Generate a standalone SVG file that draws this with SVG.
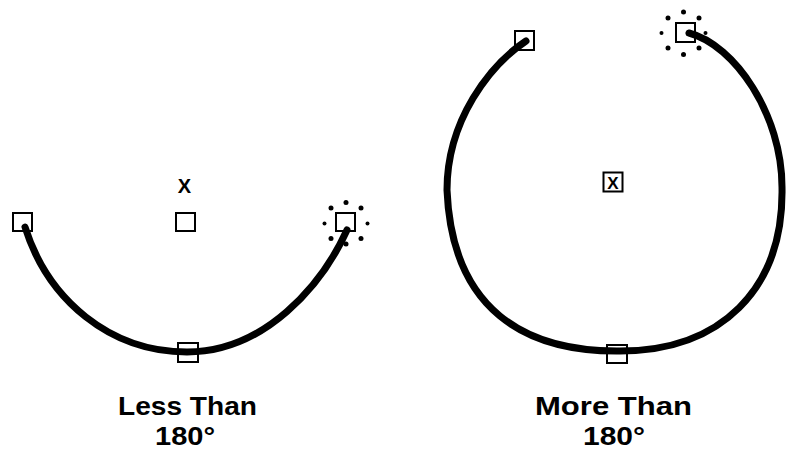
<svg xmlns="http://www.w3.org/2000/svg" width="786" height="451" viewBox="0 0 786 451">
<style>
.handle{fill:#fff;stroke:#000;stroke-width:2}
.arc{fill:none;stroke:#000;stroke-width:7;stroke-linecap:round}
.dot{fill:#000}
.lbl{font-family:"Liberation Sans",Arial,sans-serif;font-weight:bold;font-size:25px;fill:#000;text-anchor:middle}
.x{font-family:"Liberation Sans",Arial,sans-serif;font-weight:bold;fill:#000;text-anchor:middle}
</style>
<rect width="786" height="451" fill="#fff"/>
<g id="less-than">
  <g id="lt-start"><rect class="handle" x="13" y="213" width="19" height="18"/></g>
  <g id="lt-center"><rect class="handle" x="176" y="213" width="19" height="18"/><text class="x" x="184.5" y="193" font-size="20">X</text></g>
  <g id="lt-mid"><rect class="handle" x="178" y="343" width="20" height="19"/></g>
  <g id="lt-end"><rect class="handle" x="336" y="213" width="19" height="18"/>
    <g class="dot">
      <circle cx="346" cy="202.5" r="2.5"/><circle cx="361" cy="208" r="2.5"/><circle cx="367.5" cy="223.5" r="2"/><circle cx="361" cy="238.5" r="2.5"/>
      <circle cx="346" cy="244" r="2.5"/><circle cx="331" cy="238.5" r="2.5"/><circle cx="324.5" cy="223.5" r="2"/><circle cx="331" cy="208" r="2.5"/>
    </g>
  </g>
  <text class="lbl" x="187.5" y="415" textLength="139" lengthAdjust="spacingAndGlyphs">Less Than</text>
  <text class="lbl" x="185" y="445" textLength="60" lengthAdjust="spacingAndGlyphs">180°</text>
</g>
<g id="more-than">
  <g id="mt-start"><rect class="handle" x="515" y="31" width="19" height="19"/></g>
  <g id="mt-center"><rect class="handle" x="603.5" y="172.5" width="19" height="19" stroke-width="2.5"/><text class="x" x="613" y="188.5" font-size="17">X</text></g>
  <g id="mt-mid"><rect class="handle" x="607" y="345" width="20" height="18"/></g>
  <g id="mt-end"><rect class="handle" x="676" y="23" width="19" height="19"/>
    <g class="dot">
      <circle cx="683.5" cy="12" r="2.5"/><circle cx="699" cy="18" r="2.5"/><circle cx="705.5" cy="33" r="2"/><circle cx="699" cy="48" r="2.5"/>
      <circle cx="683.5" cy="54.5" r="2.5"/><circle cx="668" cy="48" r="2.5"/><circle cx="661.5" cy="33" r="2"/><circle cx="668" cy="18" r="2.5"/>
    </g>
  </g>
  <text class="lbl" x="613.5" y="415" textLength="157" lengthAdjust="spacingAndGlyphs">More Than</text>
  <text class="lbl" x="614" y="445" textLength="62" lengthAdjust="spacingAndGlyphs">180°</text>
</g>
<g id="connectors">
  <path class="arc" d="M25,227 C48,300 110,352 187,352 C265,352 322,285 347,230"/>
  <path class="arc" d="M526,41 C490,65 447,120 447,190 C452,310 525,352 620,351 C720,351 784,290 782,187 C782,115 735,45 689,33"/>
</g>
</svg>
